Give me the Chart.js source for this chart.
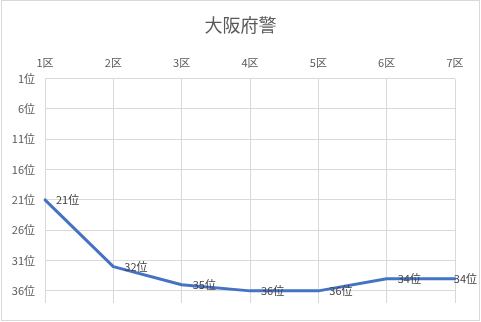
<!DOCTYPE html>
<html>
<head>
<meta charset="utf-8">
<script src="https://cdn.jsdelivr.net/npm/chart.js@4/dist/chart.umd.min.js"></script>
<style>
  html, body { margin: 0; padding: 0; background: #fff; }
  #wrap { width: 481px; height: 322px; position: relative; }
</style>
</head>
<body>
<div id="wrap"><canvas id="chart" width="481" height="322"></canvas></div>
<script>
"use strict";

/* ── Data ─────────────────────────────────────────────── */
const districts = ["1区", "2区", "3区", "4区", "5区", "6区", "7区"];
const ranks     = [21, 32, 35, 36, 36, 34, 34];
const rankTicks = [1, 6, 11, 16, 21, 26, 31, 36];
const rankMin   = 1;
const rankMax   = 38;

const FONT = "'Noto Sans CJK JP', 'Noto Sans', sans-serif";
const GRID = "#d9d9d9";
const TEXT = "#595959";

/* ── Chart border ─────────────────────────────────────── */
const frame = {
  id: "frame",
  beforeDraw(chart) {
    const { ctx, width, height } = chart;
    ctx.save();
    ctx.fillStyle = "#fff";
    ctx.fillRect(0, 0, width, height);
    ctx.strokeStyle = GRID;
    ctx.lineWidth = 1;
    ctx.strokeRect(1.5, 0.5, width - 3, height - 2);
    ctx.restore();
  },
};

/* ── Point labels ("21位") ────────────────────────────── */
const pointLabels = {
  id: "pointLabels",
  afterDatasetsDraw(chart) {
    const { ctx, width } = chart;
    const meta = chart.getDatasetMeta(0);
    ctx.save();
    ctx.font = `11px ${FONT}`;
    ctx.fillStyle = "#404040";
    ctx.textBaseline = "middle";
    ctx.textAlign = "left";
    meta.data.forEach((pt, i) => {
      const txt = ranks[i] + "位";
      const w = ctx.measureText(txt).width;
      let x = pt.x + 11;
      if (x + w > width - 4) x = width - 4 - w;
      ctx.fillText(txt, x, pt.y);
    });
    ctx.restore();
  },
};

new Chart(document.getElementById("chart"), {
  type: "line",
  data: {
    labels: districts,
    datasets: [{
      data: ranks,
      borderColor: "#4472c4",
      borderWidth: 3,
      borderCapStyle: "round",
      borderJoinStyle: "round",
      pointRadius: 0,
      tension: 0,
      fill: false,
    }],
  },
  options: {
    responsive: false,
    animation: false,
    devicePixelRatio: 1,
    layout: { padding: { left: 0, right: 0, top: 0, bottom: 19 } },
    plugins: {
      legend: { display: false },
      tooltip: { enabled: false },
      title: {
        display: true,
        text: "大阪府警",
        color: TEXT,
        font: { family: FONT, size: 18, weight: "normal" },
        padding: { top: 14, bottom: 7 },
      },
    },
    scales: {
      x: {
        position: "top",
        offset: false,
        grid: { color: GRID, drawTicks: false },
        border: { display: false },
        ticks: { color: TEXT, font: { family: FONT, size: 11 }, padding: 9, maxRotation: 0, autoSkip: false },
        afterFit(s) { s.height = 36; },
      },
      y: {
        reverse: true,
        min: rankMin,
        max: rankMax,
        grid: { color: GRID, drawTicks: false },
        border: { display: false },
        ticks: {
          color: TEXT,
          font: { family: FONT, size: 11 },
          padding: 10,
          autoSkip: false,
          callback: (v) => v + "位",
        },
        afterBuildTicks(s) { s.ticks = rankTicks.map((v) => ({ value: v })); },
        afterFit(s) { s.width = 45; },
      },
      // empty right margin so the title stays centred on the whole chart
      yRight: {
        position: "right",
        min: rankMin,
        max: rankMax,
        grid: { display: false, drawOnChartArea: false },
        border: { display: false },
        ticks: { display: false },
        afterFit(s) { s.width = 26; },
      },
    },
  },
  plugins: [frame, pointLabels],
});
</script>
</body>
</html>
